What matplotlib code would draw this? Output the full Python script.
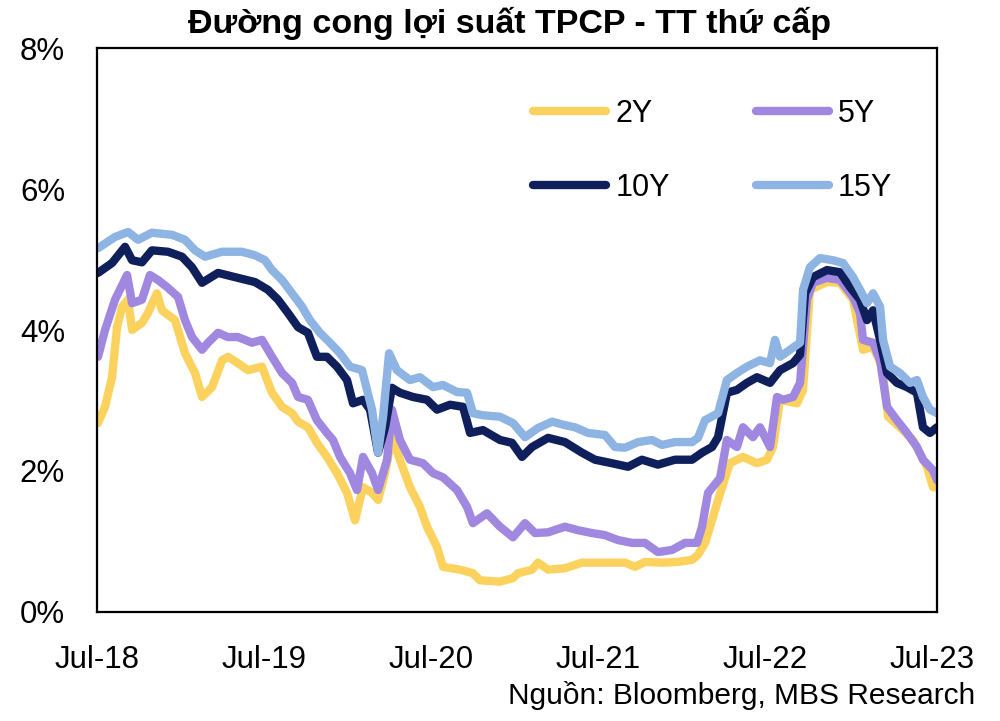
import matplotlib
matplotlib.use('Agg')
import matplotlib.pyplot as plt

plt.rcParams['font.family'] = ['Liberation Sans', 'DejaVu Sans']

# time as decimal year, yields in %
t_2y = [2018.506, 2018.548, 2018.590, 2018.620, 2018.650, 2018.686, 2018.710, 2018.769, 2018.805, 2018.859,
        2018.889, 2018.967, 2019.027, 2019.087, 2019.129, 2019.189, 2019.249, 2019.284, 2019.344, 2019.404,
        2019.488, 2019.548, 2019.608, 2019.668, 2019.704, 2019.763, 2019.817, 2019.877, 2019.937, 2019.997,
        2020.045, 2020.093, 2020.147, 2020.183, 2020.225, 2020.266, 2020.314, 2020.374, 2020.434, 2020.476,
        2020.536, 2020.572, 2020.674, 2020.751, 2020.793, 2020.913, 2020.991, 2021.021, 2021.105, 2021.141,
        2021.201, 2021.302, 2021.404, 2021.542, 2021.662, 2021.722, 2021.781, 2021.883, 2021.979, 2022.063,
        2022.099, 2022.141, 2022.183, 2022.219, 2022.290, 2022.368, 2022.452, 2022.512, 2022.548, 2022.590,
        2022.692, 2022.728, 2022.769, 2022.871, 2022.949, 2023.027, 2023.087, 2023.147, 2023.201, 2023.237,
        2023.308, 2023.386, 2023.470, 2023.506, 2023.530]
v_2y = [2.68, 2.91, 3.33, 4.04, 4.33, 4.43, 4.00, 4.10, 4.24, 4.52,
        4.28, 4.14, 3.67, 3.39, 3.05, 3.19, 3.57, 3.62, 3.53, 3.43,
        3.48, 3.11, 2.91, 2.82, 2.70, 2.62, 2.40, 2.20, 1.97, 1.69,
        1.30, 1.77, 1.69, 1.59, 1.97, 2.48, 2.16, 1.77, 1.49, 1.21,
        0.92, 0.64, 0.60, 0.55, 0.45, 0.43, 0.48, 0.55, 0.60, 0.70,
        0.60, 0.62, 0.70, 0.70, 0.70, 0.64, 0.71, 0.70, 0.71, 0.74,
        0.81, 0.98, 1.30, 1.59, 2.11, 2.20, 2.11, 2.16, 2.34, 3.01,
        2.96, 3.15, 4.57, 4.68, 4.67, 4.43, 3.72, 3.76, 3.48, 2.77,
        2.62, 2.44, 2.06, 1.77, 1.77]

t_5y = [2018.506, 2018.548, 2018.608, 2018.680, 2018.710, 2018.769, 2018.817, 2018.865, 2018.919, 2018.985,
        2019.027, 2019.069, 2019.129, 2019.165, 2019.225, 2019.284, 2019.344, 2019.428, 2019.488, 2019.548,
        2019.608, 2019.668, 2019.704, 2019.763, 2019.817, 2019.877, 2019.913, 2019.955, 2020.015, 2020.057,
        2020.093, 2020.147, 2020.183, 2020.237, 2020.266, 2020.314, 2020.374, 2020.452, 2020.512, 2020.572,
        2020.656, 2020.716, 2020.751, 2020.835, 2020.913, 2020.991, 2021.063, 2021.123, 2021.201, 2021.302,
        2021.380, 2021.464, 2021.542, 2021.620, 2021.704, 2021.781, 2021.859, 2021.943, 2022.021, 2022.093,
        2022.123, 2022.159, 2022.231, 2022.272, 2022.332, 2022.368, 2022.428, 2022.470, 2022.530, 2022.572,
        2022.608, 2022.668, 2022.710, 2022.751, 2022.787, 2022.871, 2022.949, 2023.027, 2023.069, 2023.087,
        2023.147, 2023.189, 2023.231, 2023.290, 2023.350, 2023.410, 2023.446, 2023.506, 2023.530]
v_5y = [3.62, 4.00, 4.43, 4.78, 4.38, 4.43, 4.78, 4.71, 4.61, 4.47,
        4.14, 3.90, 3.72, 3.82, 3.96, 3.90, 3.90, 3.82, 3.86, 3.62,
        3.39, 3.25, 3.05, 3.01, 2.72, 2.54, 2.44, 2.20, 1.97, 1.73,
        2.20, 1.97, 1.73, 2.16, 2.87, 2.44, 2.16, 2.11, 1.97, 1.91,
        1.73, 1.49, 1.26, 1.40, 1.21, 1.06, 1.26, 1.12, 1.13, 1.21,
        1.16, 1.12, 1.09, 1.02, 0.98, 0.98, 0.85, 0.88, 0.98, 0.98,
        1.21, 1.69, 1.90, 2.44, 2.34, 2.62, 2.48, 2.62, 2.34, 3.05,
        3.01, 3.05, 3.25, 4.43, 4.67, 4.74, 4.71, 4.47, 4.24, 3.86,
        3.82, 3.57, 2.91, 2.72, 2.54, 2.34, 2.16, 2.01, 1.87]

t_10y = [2018.506, 2018.590, 2018.668, 2018.710, 2018.769, 2018.829, 2018.925, 2019.009, 2019.069, 2019.129,
         2019.225, 2019.326, 2019.446, 2019.524, 2019.584, 2019.644, 2019.704, 2019.763, 2019.817, 2019.877,
         2019.937, 2019.997, 2020.033, 2020.093, 2020.135, 2020.183, 2020.225, 2020.266, 2020.314, 2020.392,
         2020.476, 2020.536, 2020.614, 2020.692, 2020.734, 2020.811, 2020.913, 2020.985, 2021.045, 2021.105,
         2021.201, 2021.302, 2021.404, 2021.482, 2021.584, 2021.680, 2021.763, 2021.859, 2021.961, 2022.063,
         2022.123, 2022.183, 2022.219, 2022.272, 2022.332, 2022.392, 2022.452, 2022.530, 2022.590, 2022.668,
         2022.710, 2022.740, 2022.787, 2022.871, 2022.949, 2023.009, 2023.069, 2023.111, 2023.147, 2023.189,
         2023.231, 2023.290, 2023.350, 2023.410, 2023.446, 2023.488, 2023.530]
v_10y = [4.81, 4.95, 5.18, 4.99, 4.96, 5.13, 5.11, 5.04, 4.89, 4.67,
         4.81, 4.75, 4.68, 4.57, 4.43, 4.24, 4.04, 3.96, 3.62, 3.62,
         3.48, 3.29, 2.96, 3.01, 2.87, 2.26, 2.62, 3.18, 3.11, 3.05,
         3.01, 2.87, 2.94, 2.91, 2.54, 2.58, 2.44, 2.40, 2.20, 2.34,
         2.47, 2.41, 2.26, 2.16, 2.11, 2.06, 2.16, 2.09, 2.16, 2.16,
         2.26, 2.34, 2.48, 3.11, 3.15, 3.25, 3.33, 3.25, 3.43, 3.53,
         3.65, 4.52, 4.75, 4.85, 4.82, 4.61, 4.43, 4.14, 4.28, 3.86,
         3.39, 3.25, 3.19, 3.11, 2.62, 2.54, 2.62]

t_15y = [2018.506, 2018.608, 2018.686, 2018.746, 2018.829, 2018.949, 2019.027, 2019.087, 2019.147, 2019.249,
         2019.368, 2019.446, 2019.506, 2019.548, 2019.608, 2019.668, 2019.728, 2019.775, 2019.835, 2019.895,
         2019.955, 2020.015, 2020.087, 2020.117, 2020.147, 2020.183, 2020.213, 2020.249, 2020.296, 2020.374,
         2020.434, 2020.512, 2020.572, 2020.656, 2020.716, 2020.751, 2020.811, 2020.913, 2020.991, 2021.063,
         2021.141, 2021.225, 2021.302, 2021.362, 2021.440, 2021.542, 2021.602, 2021.662, 2021.740, 2021.823,
         2021.883, 2021.961, 2022.063, 2022.099, 2022.141, 2022.219, 2022.272, 2022.332, 2022.392, 2022.470,
         2022.530, 2022.560, 2022.590, 2022.650, 2022.710, 2022.728, 2022.769, 2022.829, 2022.907, 2022.967,
         2023.027, 2023.069, 2023.111, 2023.147, 2023.189, 2023.207, 2023.249, 2023.308, 2023.368, 2023.410,
         2023.446, 2023.488, 2023.530]
v_15y = [5.16, 5.32, 5.39, 5.28, 5.38, 5.35, 5.28, 5.13, 5.04, 5.11,
         5.11, 5.06, 4.99, 4.85, 4.71, 4.52, 4.33, 4.14, 3.96, 3.82,
         3.67, 3.48, 3.43, 3.15, 2.87, 2.26, 2.77, 3.67, 3.43, 3.29,
         3.33, 3.19, 3.22, 3.12, 3.11, 2.82, 2.79, 2.77, 2.68, 2.48,
         2.61, 2.70, 2.65, 2.62, 2.54, 2.51, 2.34, 2.33, 2.41, 2.44,
         2.37, 2.41, 2.41, 2.47, 2.72, 2.82, 3.29, 3.39, 3.48, 3.57,
         3.53, 3.86, 3.62, 3.72, 3.82, 4.57, 4.89, 5.02, 4.99, 4.95,
         4.75, 4.57, 4.38, 4.52, 4.33, 3.86, 3.48, 3.39, 3.25, 3.29,
         3.05, 2.87, 2.82]

tick_pos = [2018.5, 2019.5, 2020.5, 2021.5, 2022.5, 2023.5]
tick_lbl = ['Jul-18', 'Jul-19', 'Jul-20', 'Jul-21', 'Jul-22', 'Jul-23']

fig = plt.figure(figsize=(10, 7.21), dpi=100)
ax = fig.add_axes([0.097, 0.1512, 0.840, 0.7822])

kw = dict(lw=6.0, solid_joinstyle='round', solid_capstyle='round')
l2, = ax.plot(t_2y, v_2y, color='#FCD25F', label='2Y', **kw)
l5, = ax.plot(t_5y, v_5y, color='#A088E0', label='5Y', **kw)
l10, = ax.plot(t_10y, v_10y, color='#0F1F5C', label='10Y', **kw)
l15, = ax.plot(t_15y, v_15y, color='#8EB4E3', label='15Y', **kw)

ax.set_xlim(2018.5, 2023.53)
ax.set_ylim(0, 8)
ax.set_yticks([0, 2, 4, 6, 8])
ax.set_yticklabels(['0%', '2%', '4%', '6%', '8%'])
ax.set_xticks(tick_pos)
ax.set_xticklabels(tick_lbl)
ax.tick_params(axis='both', length=0, labelsize=22.5, colors='black')
ax.tick_params(axis='x', pad=24)
ax.tick_params(axis='y', pad=23)
for s in ax.spines.values():
    s.set_linewidth(1.6)
    s.set_color('black')

# legend filled row by row: 2Y 5Y / 10Y 15Y
ax.legend([l2, l10, l5, l15], ['2Y', '10Y', '5Y', '15Y'], ncol=2, loc='center',
          bbox_to_anchor=(0.733, 0.818), frameon=False,
          fontsize=22, handlelength=2.4, handletextpad=0.3, columnspacing=2.8,
          labelspacing=1.45)

fig.text(0.51, 0.967, 'Đường cong lợi suất TPCP - TT thứ cấp', ha='center', va='center',
         fontsize=24.5, fontweight='bold')
fig.text(0.975, 0.036, 'Nguồn: Bloomberg, MBS Research', ha='right', va='center', fontsize=21.5)

fig.savefig('out.png', dpi=100)
